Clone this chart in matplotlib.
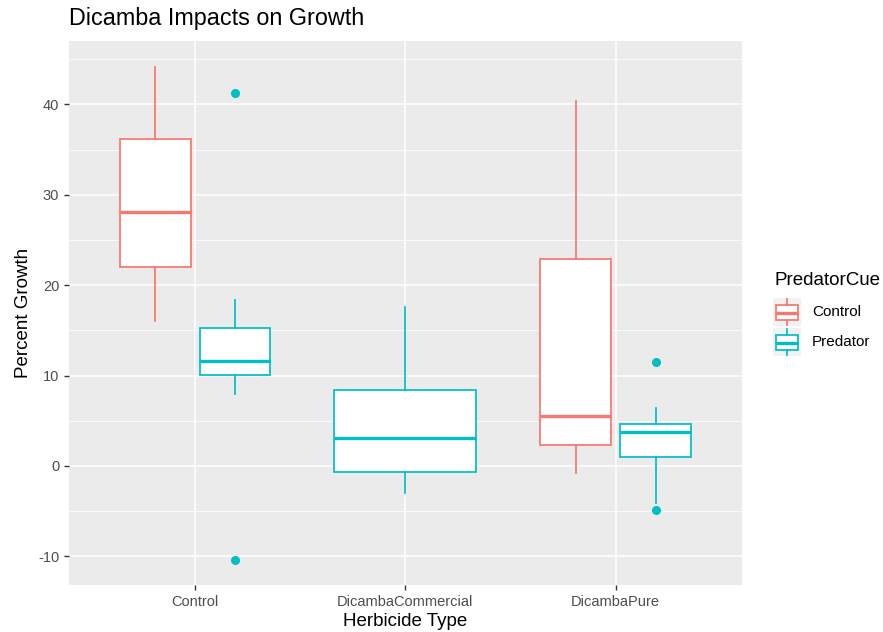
import matplotlib
matplotlib.use("Agg")
import matplotlib.pyplot as plt
import numpy as np

plt.rcParams['font.family'] = ['Liberation Sans', 'DejaVu Sans']

herbicides = ['Control', 'DicambaCommercial', 'DicambaPure']
cues = ['Control', 'Predator']
colors = {'Control': '#F8766D', 'Predator': '#00BFC4'}

# one entry per box: herbicide, cue, whislo, q1, med, q3, whishi, outliers
box_herb = ['Control', 'Control', 'DicambaCommercial', 'DicambaPure', 'DicambaPure']
box_cue = ['Control', 'Predator', 'Predator', 'Control', 'Predator']
whislo = [16.0, 8.0, -3.0, -0.8, -4.1]
q1 = [22.0, 10.1, -0.7, 2.3, 1.0]
med = [28.1, 11.6, 3.1, 5.5, 3.8]
q3 = [36.2, 15.3, 8.4, 22.9, 4.6]
whishi = [44.1, 18.4, 17.6, 40.4, 6.45]
fliers = [[], [41.3, -10.4], [], [], [11.5, -4.9]]

fig = plt.figure(figsize=(8.83, 6.32), dpi=100)
ax = fig.add_axes([0.078, 0.074, 0.762, 0.861])
ax.set_facecolor('#EBEBEB')
for s in ax.spines.values():
    s.set_visible(False)

ax.set_yticks([-5, 5, 15, 25, 35, 45], minor=True)
ax.grid(True, which='major', color='white', linewidth=1.1)
ax.grid(True, which='minor', axis='y', color='white', linewidth=0.55)
ax.set_axisbelow(True)
ax.tick_params(axis='both', which='major', colors='#333333', length=3.5, width=1,
               labelsize=10.5, labelcolor='#4D4D4D')
ax.tick_params(axis='y', which='minor', length=0)

def draw_box(a, stats, pos, width, color):
    a.bxp([stats], positions=[pos], widths=[width], showcaps=False,
          patch_artist=True,
          boxprops=dict(facecolor='white', edgecolor=color, linewidth=1.25),
          whiskerprops=dict(color=color, linewidth=1.25),
          medianprops=dict(color=color, linewidth=2.4, solid_capstyle='butt'),
          flierprops=dict(marker='o', markerfacecolor=color, markeredgecolor=color,
                          markersize=5.5, linestyle='none'))

for i in range(len(box_herb)):
    x = herbicides.index(box_herb[i]) + 1
    n = box_herb.count(box_herb[i])
    if n == 1:
        pos, w = x, 0.675
    else:
        pos = x - 0.19 if box_cue[i] == 'Control' else x + 0.19
        w = 0.337
    st = dict(whislo=whislo[i], q1=q1[i], med=med[i], q3=q3[i], whishi=whishi[i],
              fliers=fliers[i])
    draw_box(ax, st, pos, w, colors[box_cue[i]])

ax.set_xlim(0.4, 3.6)
ax.set_ylim(-13.2, 47.0)
ax.set_xticks([1, 2, 3])
ax.set_xticklabels(herbicides)
ax.set_yticks([-10, 0, 10, 20, 30, 40])
ax.set_yticklabels(['-10', '0', '10', '20', '30', '40'])
ax.set_xlabel('Herbicide Type', fontsize=13.5, labelpad=3)
ax.set_ylabel('Percent Growth', fontsize=13.5, labelpad=4)
fig.text(0.078, 0.952, 'Dicamba Impacts on Growth', fontsize=16.8, ha='left', va='bottom')

# legend
fig.text(774 / 883, 1 - 281 / 632, 'PredatorCue', fontsize=13.5, ha='left', va='center')
for k, cue in enumerate(cues):
    top = 298 + k * 30
    lax = fig.add_axes([773 / 883, 1 - (top + 28) / 632, 28 / 883, 28 / 632])
    lax.set_facecolor('#F2F2F2')
    for s in lax.spines.values():
        s.set_visible(False)
    st = dict(whislo=0.0, q1=0.2, med=0.48, q3=0.76, whishi=1.0, fliers=[])
    draw_box(lax, st, 0.5, 0.82, colors[cue])
    lax.set_xlim(0, 1)
    lax.set_ylim(-0.04, 1.04)
    lax.set_xticks([])
    lax.set_yticks([])
    fig.text(812 / 883, 1 - (top + 14) / 632, cue, fontsize=11, ha='left', va='center')

fig.savefig('out.png', dpi=100)
